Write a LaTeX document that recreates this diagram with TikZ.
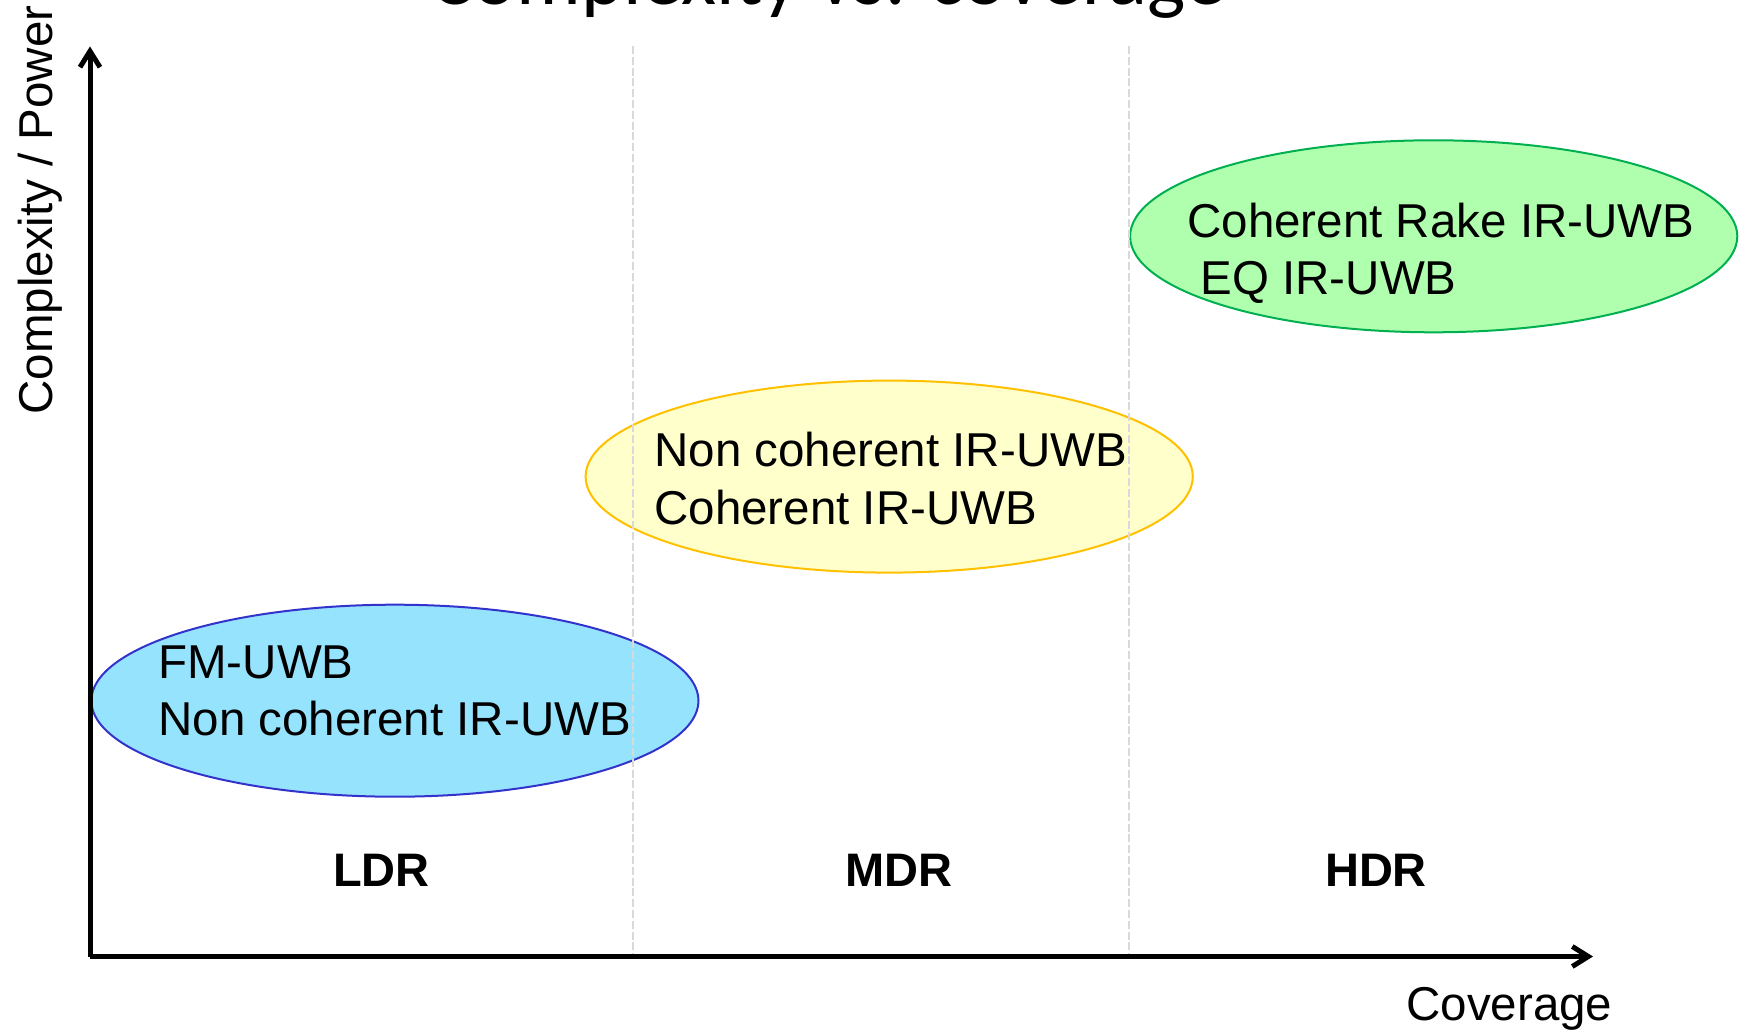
\documentclass[tikz,border=0pt]{standalone}
\usepackage{fontspec}
\setmainfont{Liberation Sans}
\newfontfamily\titlefont{Carlito}
\usetikzlibrary{shapes.geometric,arrows.meta}
\definecolor{bluefill}{HTML}{96E3FE}
\definecolor{blueedge}{HTML}{3333CC}
\definecolor{yelfill}{HTML}{FFFFCC}
\definecolor{yeledge}{HTML}{FFC000}
\definecolor{grnfill}{HTML}{AFFFAF}
\definecolor{grnedge}{HTML}{00B050}
\definecolor{dashgray}{HTML}{D9D9D9}
\tikzset{
  oval/.style={ellipse, inner sep=0pt, line width=1pt, minimum width=303.6pt, minimum height=96pt},
  txt/.style={font=\fontsize{23.75}{28.5}\selectfont, inner sep=0pt, align=left, anchor=base west},
  ratelbl/.style={font=\fontsize{23.5}{28}\selectfont\bfseries, inner sep=0pt, anchor=base},
  axis/.style={line width=2.5pt, -{Straight Barb[length=8pt,width=10pt]}},
  divider/.style={dashgray, line width=1.2pt, dash pattern=on 4pt off 1.4pt}
}
\begin{document}
\begin{tikzpicture}[x=0.5pt,y=-0.5pt]
\useasboundingbox (0,0) rectangle (1744,1031);
% ellipses
\node[oval, draw=blueedge, fill=bluefill] (ldr) at (394.9,700.7) {};
\node[oval, draw=yeledge, fill=yelfill] (mdr) at (889.2,476.6) {};
\node[oval, draw=grnedge, fill=grnfill] (hdr) at (1433.7,236.3) {};
% dividers
\coordinate (d1top) at (633,46);
\coordinate (d1bot) at (633,956);
\coordinate (d2top) at (1129,46);
\coordinate (d2bot) at (1129,956);
\draw[divider] (d1top) -- (d1bot);
\draw[divider] (d2top) -- (d2bot);
% texts (base anchor = last line's baseline)
\node[txt] (ldrtxt) at (158,735) {FM-UWB\\Non coherent IR-UWB};
\node[txt] (mdrtxt) at (654,524) {Non coherent IR-UWB\\Coherent IR-UWB};
\node[txt] (hdrtxt) at (1187,295) {Coherent Rake IR-UWB\\\ EQ IR-UWB};
\node[ratelbl] (ldrlbl) at (381.5,886) {LDR};
\node[ratelbl] (mdrlbl) at (899,886) {MDR};
\node[ratelbl] (hdrlbl) at (1376,886) {HDR};
% axes
\coordinate (O) at (90,956.5);
\coordinate (ytip) at (90,46.5);
\coordinate (xtip) at (1593,956.5);
\draw[axis] (O) -- (ytip);
\draw[axis] (O) -- (xtip);
\node[txt] (xlbl) at (1406,1020) {Coverage};
\node[txt, rotate=90] (ylbl) at (52,415) {Complexity / Power};
\node[font=\titlefont\fontsize{40.5}{48}\selectfont, inner sep=0pt, anchor=base] (title) at (828,5) {Complexity vs. coverage};
\end{tikzpicture}
\end{document}
